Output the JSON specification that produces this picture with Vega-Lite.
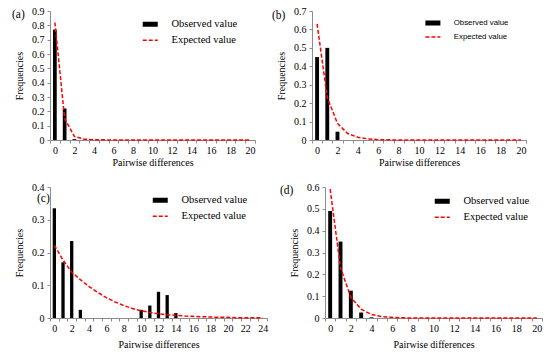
{
  "$schema": "https://vega.github.io/schema/vega-lite/v6.json",
  "padding": {"left": 12, "top": 6, "right": 0, "bottom": 0},
  "background": "white",
  "datasets": {
    "a": [
      {"x": 0, "obs": 0.77, "exp": 0.82}, {"x": 1, "obs": 0.22, "exp": 0.15}, {"x": 2, "obs": 0.006, "exp": 0.025},
      {"x": 3, "obs": 0, "exp": 0.006}, {"x": 4, "obs": 0, "exp": 0.002}, {"x": 5, "obs": 0, "exp": 0.001},
      {"x": 6, "obs": 0, "exp": 0}, {"x": 7, "obs": 0, "exp": 0}, {"x": 8, "obs": 0, "exp": 0},
      {"x": 9, "obs": 0, "exp": 0}, {"x": 10, "obs": 0, "exp": 0}, {"x": 11, "obs": 0, "exp": 0},
      {"x": 12, "obs": 0, "exp": 0}, {"x": 13, "obs": 0, "exp": 0}, {"x": 14, "obs": 0, "exp": 0},
      {"x": 15, "obs": 0, "exp": 0}, {"x": 16, "obs": 0, "exp": 0}, {"x": 17, "obs": 0, "exp": 0},
      {"x": 18, "obs": 0, "exp": 0}, {"x": 19, "obs": 0, "exp": 0}, {"x": 20, "obs": 0, "exp": 0}
    ],
    "b": [
      {"x": 0, "obs": 0.45, "exp": 0.63}, {"x": 1, "obs": 0.5, "exp": 0.23}, {"x": 2, "obs": 0.045, "exp": 0.09},
      {"x": 3, "obs": 0, "exp": 0.035}, {"x": 4, "obs": 0, "exp": 0.015}, {"x": 5, "obs": 0, "exp": 0.006},
      {"x": 6, "obs": 0, "exp": 0.002}, {"x": 7, "obs": 0, "exp": 0.001}, {"x": 8, "obs": 0, "exp": 0},
      {"x": 9, "obs": 0, "exp": 0}, {"x": 10, "obs": 0, "exp": 0}, {"x": 11, "obs": 0, "exp": 0},
      {"x": 12, "obs": 0, "exp": 0}, {"x": 13, "obs": 0, "exp": 0}, {"x": 14, "obs": 0, "exp": 0},
      {"x": 15, "obs": 0, "exp": 0}, {"x": 16, "obs": 0, "exp": 0}, {"x": 17, "obs": 0, "exp": 0},
      {"x": 18, "obs": 0, "exp": 0}, {"x": 19, "obs": 0, "exp": 0}, {"x": 20, "obs": 0, "exp": 0}
    ],
    "c": [
      {"x": 0, "obs": 0.335, "exp": 0.222}, {"x": 1, "obs": 0.17, "exp": 0.177}, {"x": 2, "obs": 0.235, "exp": 0.14},
      {"x": 3, "obs": 0.025, "exp": 0.117}, {"x": 4, "obs": 0, "exp": 0.096}, {"x": 5, "obs": 0, "exp": 0.078},
      {"x": 6, "obs": 0, "exp": 0.062}, {"x": 7, "obs": 0, "exp": 0.049}, {"x": 8, "obs": 0, "exp": 0.038},
      {"x": 9, "obs": 0, "exp": 0.029}, {"x": 10, "obs": 0.025, "exp": 0.022}, {"x": 11, "obs": 0.038, "exp": 0.017},
      {"x": 12, "obs": 0.08, "exp": 0.013}, {"x": 13, "obs": 0.07, "exp": 0.01}, {"x": 14, "obs": 0.015, "exp": 0.008},
      {"x": 15, "obs": 0, "exp": 0.006}, {"x": 16, "obs": 0, "exp": 0.005}, {"x": 17, "obs": 0, "exp": 0.004},
      {"x": 18, "obs": 0, "exp": 0.003}, {"x": 19, "obs": 0, "exp": 0.002}, {"x": 20, "obs": 0, "exp": 0.002},
      {"x": 21, "obs": 0, "exp": 0.001}, {"x": 22, "obs": 0, "exp": 0.001}, {"x": 23, "obs": 0, "exp": 0.001},
      {"x": 24, "obs": 0, "exp": 0.001}
    ],
    "d": [
      {"x": 0, "obs": 0.49, "exp": 0.59}, {"x": 1, "obs": 0.35, "exp": 0.23}, {"x": 2, "obs": 0.125, "exp": 0.095},
      {"x": 3, "obs": 0.025, "exp": 0.04}, {"x": 4, "obs": 0.003, "exp": 0.016}, {"x": 5, "obs": 0, "exp": 0.006},
      {"x": 6, "obs": 0, "exp": 0.003}, {"x": 7, "obs": 0, "exp": 0.001}, {"x": 8, "obs": 0, "exp": 0},
      {"x": 9, "obs": 0, "exp": 0}, {"x": 10, "obs": 0, "exp": 0}, {"x": 11, "obs": 0, "exp": 0},
      {"x": 12, "obs": 0, "exp": 0}, {"x": 13, "obs": 0, "exp": 0}, {"x": 14, "obs": 0, "exp": 0},
      {"x": 15, "obs": 0, "exp": 0}, {"x": 16, "obs": 0, "exp": 0}, {"x": 17, "obs": 0, "exp": 0},
      {"x": 18, "obs": 0, "exp": 0}, {"x": 19, "obs": 0, "exp": 0}, {"x": 20, "obs": 0, "exp": 0}
    ]
  },
  "vconcat": [
    {
      "hconcat": [
        {
          "width": 205, "height": 129,
          "title": {"text": "(a)", "anchor": "start", "frame": "group", "dx": -38, "offset": -14},
          "data": {"name": "a"},
          "encoding": {
            "x": {"field": "x", "type": "ordinal", "title": "Pairwise differences",
              "scale": {"domain": [0,1,2,3,4,5,6,7,8,9,10,11,12,13,14,15,16,17,18,19,20], "paddingInner": 0, "paddingOuter": 0},
              "axis": {"labelAngle": 0, "tickBand": "extent", "labelExpr": "datum.value % 2 == 0 ? datum.label : ''"}},
            "y": {"field": "obs", "type": "quantitative", "title": "Frequencies", "scale": {"domain": [0, 0.9]},
              "axis": {"values": [0,0.1,0.2,0.3,0.4,0.5,0.6,0.7,0.8,0.9], "tickCount": 10, "labelOverlap": false, "labelExpr": "datum.value == 0 ? '0' : format(datum.value, '.1f')"}}
          },
          "layer": [
            {"mark": {"type": "bar", "width": {"band": 0.38}},
              "encoding": {
                "color": {"datum": "Observed value", "type": "nominal", "scale": {"domain": ["Observed value", "Expected value"], "range": ["black", "red"]},
                  "legend": {"orient": "none", "legendX": 89, "legendY": 8, "rowPadding": -6,
                    "encode": {"symbols": {"update": {"stroke": {"signal": "datum.value === 'Observed value' ? 'black' : 'red'"}, "strokeWidth": {"signal": "datum.value === 'Observed value' ? 5 : 1.5"}, "strokeDash": {"signal": "datum.value === 'Observed value' ? [1,0] : [4,2]"}}}}}}
              }},
            {"mark": {"type": "line", "strokeDash": [4, 2], "strokeWidth": 1.5},
              "encoding": {"y": {"field": "exp", "type": "quantitative", "axis": {"values": [0,0.1,0.2,0.3,0.4,0.5,0.6,0.7,0.8,0.9], "tickCount": 10, "labelOverlap": false, "labelExpr": "datum.value == 0 ? '0' : format(datum.value, '.1f')"}}, "color": {"datum": "Expected value", "type": "nominal"}}}
          ]
        },
        {
          "width": 214, "height": 129,
          "title": {"text": "(b)", "anchor": "start", "frame": "group", "dx": -40, "offset": -15},
          "data": {"name": "b"},
          "encoding": {
            "x": {"field": "x", "type": "ordinal", "title": "Pairwise differences",
              "scale": {"domain": [0,1,2,3,4,5,6,7,8,9,10,11,12,13,14,15,16,17,18,19,20], "paddingInner": 0, "paddingOuter": 0},
              "axis": {"labelAngle": 0, "tickBand": "extent", "labelExpr": "datum.value % 2 == 0 ? datum.label : ''"}},
            "y": {"field": "obs", "type": "quantitative", "title": "Frequencies", "scale": {"domain": [0, 0.7]},
              "axis": {"values": [0,0.1,0.2,0.3,0.4,0.5,0.6,0.7], "tickCount": 8, "labelOverlap": false, "labelExpr": "datum.value == 0 ? '0' : format(datum.value, '.1f')"}}
          },
          "layer": [
            {"mark": {"type": "bar", "width": {"band": 0.38}},
              "encoding": {
                "color": {"datum": "Observed value", "type": "nominal", "scale": {"domain": ["Observed value", "Expected value"], "range": ["black", "red"]},
                  "legend": {"orient": "none", "legendX": 111, "legendY": 8, "rowPadding": -4, "labelFont": "Liberation Sans, DejaVu Sans, sans-serif", "labelFontSize": 7.8, "labelOffset": 23,
                    "encode": {"symbols": {"update": {"stroke": {"signal": "datum.value === 'Observed value' ? 'black' : 'red'"}, "strokeWidth": {"signal": "datum.value === 'Observed value' ? 5 : 1.5"}, "strokeDash": {"signal": "datum.value === 'Observed value' ? [1,0] : [4,2]"}}}}}}
              }},
            {"mark": {"type": "line", "strokeDash": [4, 2], "strokeWidth": 1.5},
              "encoding": {"y": {"field": "exp", "type": "quantitative", "axis": {"values": [0,0.1,0.2,0.3,0.4,0.5,0.6,0.7], "tickCount": 8, "labelOverlap": false, "labelExpr": "datum.value == 0 ? '0' : format(datum.value, '.1f')"}}, "color": {"datum": "Expected value", "type": "nominal"}}}
          ]
        }
      ],
      "spacing": 16,
      "resolve": {"scale": {"color": "independent"}, "legend": {"color": "independent"}}
    },
    {
      "hconcat": [
        {
          "width": 217, "height": 131,
          "title": {"text": "(c)", "anchor": "start", "frame": "group", "dx": -13, "offset": -22},
          "data": {"name": "c"},
          "encoding": {
            "x": {"field": "x", "type": "ordinal", "title": "Pairwise differences",
              "scale": {"domain": [0,1,2,3,4,5,6,7,8,9,10,11,12,13,14,15,16,17,18,19,20,21,22,23,24], "paddingInner": 0, "paddingOuter": 0},
              "axis": {"labelAngle": 0, "tickBand": "extent", "labelExpr": "datum.value % 2 == 0 ? datum.label : ''", "titlePadding": 6}},
            "y": {"field": "obs", "type": "quantitative", "title": "Frequencies", "scale": {"domain": [0, 0.4]},
              "axis": {"values": [0,0.1,0.2,0.3,0.4], "tickCount": 5, "labelOverlap": false, "labelExpr": "datum.value == 0 ? '0' : format(datum.value, '.1f')"}}
          },
          "layer": [
            {"mark": {"type": "bar", "width": {"band": 0.38}},
              "encoding": {
                "color": {"datum": "Observed value", "type": "nominal", "scale": {"domain": ["Observed value", "Expected value"], "range": ["black", "red"]},
                  "legend": {"orient": "none", "legendX": 99, "legendY": 8, "rowPadding": -6,
                    "encode": {"symbols": {"update": {"stroke": {"signal": "datum.value === 'Observed value' ? 'black' : 'red'"}, "strokeWidth": {"signal": "datum.value === 'Observed value' ? 5 : 1.5"}, "strokeDash": {"signal": "datum.value === 'Observed value' ? [1,0] : [4,2]"}}}}}}
              }},
            {"mark": {"type": "line", "strokeDash": [4, 2], "strokeWidth": 1.5},
              "encoding": {"y": {"field": "exp", "type": "quantitative", "axis": {"values": [0,0.1,0.2,0.3,0.4], "tickCount": 5, "labelOverlap": false, "labelExpr": "datum.value == 0 ? '0' : format(datum.value, '.1f')"}}, "color": {"datum": "Expected value", "type": "nominal"}}}
          ]
        },
        {
          "width": 217, "height": 131,
          "title": {"text": "(d)", "anchor": "start", "frame": "group", "dx": -45, "offset": -14},
          "data": {"name": "d"},
          "encoding": {
            "x": {"field": "x", "type": "ordinal", "title": "Pairwise differences",
              "scale": {"domain": [0,1,2,3,4,5,6,7,8,9,10,11,12,13,14,15,16,17,18,19,20], "paddingInner": 0, "paddingOuter": 0},
              "axis": {"labelAngle": 0, "tickBand": "extent", "labelExpr": "datum.value % 2 == 0 ? datum.label : ''", "titlePadding": 6}},
            "y": {"field": "obs", "type": "quantitative", "title": "Frequencies", "scale": {"domain": [0, 0.6]},
              "axis": {"values": [0,0.1,0.2,0.3,0.4,0.5,0.6], "tickCount": 7, "labelOverlap": false, "labelExpr": "datum.value == 0 ? '0' : format(datum.value, '.1f')"}}
          },
          "layer": [
            {"mark": {"type": "bar", "width": {"band": 0.38}},
              "encoding": {
                "color": {"datum": "Observed value", "type": "nominal", "scale": {"domain": ["Observed value", "Expected value"], "range": ["black", "red"]},
                  "legend": {"orient": "none", "legendX": 106, "legendY": 9, "rowPadding": -6,
                    "encode": {"symbols": {"update": {"stroke": {"signal": "datum.value === 'Observed value' ? 'black' : 'red'"}, "strokeWidth": {"signal": "datum.value === 'Observed value' ? 5 : 1.5"}, "strokeDash": {"signal": "datum.value === 'Observed value' ? [1,0] : [4,2]"}}}}}}
              }},
            {"mark": {"type": "line", "strokeDash": [4, 2], "strokeWidth": 1.5},
              "encoding": {"y": {"field": "exp", "type": "quantitative", "axis": {"values": [0,0.1,0.2,0.3,0.4,0.5,0.6], "tickCount": 7, "labelOverlap": false, "labelExpr": "datum.value == 0 ? '0' : format(datum.value, '.1f')"}}, "color": {"datum": "Expected value", "type": "nominal"}}}
          ]
        }
      ],
      "spacing": 12,
      "resolve": {"scale": {"color": "independent"}, "legend": {"color": "independent"}}
    }
  ],
  "spacing": 15,
  "resolve": {"scale": {"color": "independent"}, "legend": {"color": "independent"}},
  "config": {
    "view": {"stroke": null},
    "font": "Liberation Serif, DejaVu Serif, serif",
    "title": {"font": "Liberation Serif, DejaVu Serif, serif", "fontSize": 11.5, "fontWeight": "normal", "color": "black"},
    "axis": {"labelFont": "Liberation Serif, DejaVu Serif, serif", "labelFontSize": 10, "labelColor": "black", "titleFont": "Liberation Serif, DejaVu Serif, serif", "titleFontSize": 10, "titleFontWeight": "normal", "titleColor": "black", "domainColor": "#8c8c8c", "tickColor": "#8c8c8c", "grid": false, "tickSize": 3, "labelPadding": 2},
    "axisX": {"titlePadding": 2},
    "axisY": {"titlePadding": 7, "labelPadding": 3, "labelOverlap": false},
    "legend": {
      "title": null, "symbolType": "M-1,0H9", "symbolSize": 9, "labelFont": "Liberation Serif, DejaVu Serif, serif", "labelFontSize": 10.5, "labelColor": "black", "labelOffset": 22,
      "symbolStrokeWidth": 1.5
    }
  }
}
